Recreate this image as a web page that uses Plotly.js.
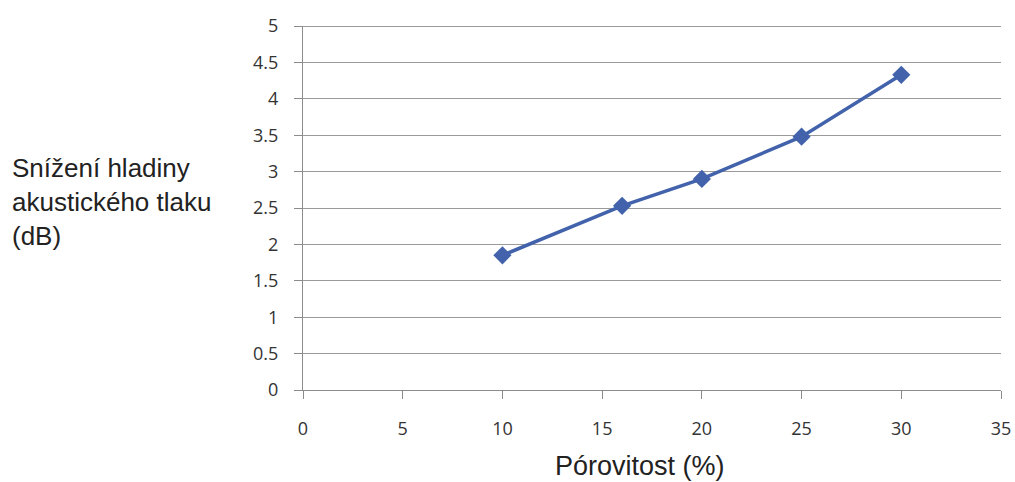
<!DOCTYPE html>
<html>
<head>
<meta charset="utf-8">
<script src="https://cdn.plot.ly/plotly-3.0.1.min.js"></script>
<style>html,body{margin:0;padding:0;background:#fff;}#chart{width:1015px;height:482px;}</style>
</head>
<body>
<div id="chart"></div>
<script>
const porosity = [10, 16, 20, 25, 30];
const reduction = [1.85, 2.53, 2.90, 3.48, 4.33];
const xTitle = "Pórovitost (%)";
const yTitle = "Snížení hladiny<br>akustického tlaku<br>(dB)";

const W = 1015, H = 482;
const m = {l: 303, r: 14, t: 26, b: 92};
const pw = W - m.l - m.r, ph = H - m.t - m.b;

const trace = {
  x: porosity, y: reduction, type: 'scatter', mode: 'lines+markers',
  line: {color: '#4263ab', width: 3.5},
  marker: {symbol: 'diamond', size: 14, color: '#4263ab'},
  hoverinfo: 'none'
};

const tickFont = {family: 'Open Sans, Liberation Sans, sans-serif', size: 18, color: '#333'};

const layout = {
  width: W, height: H,
  margin: m,
  paper_bgcolor: '#ffffff', plot_bgcolor: '#ffffff',
  showlegend: false,
  font: {family: 'Liberation Sans, Arial, sans-serif', color: '#222'},
  xaxis: {
    range: [0, 35], dtick: 5, tick0: 0,
    showgrid: false, zeroline: false,
    showline: true, linecolor: '#8c8c8c', linewidth: 1,
    ticks: 'outside', ticklen: 8, tickcolor: '#8c8c8c',
    ticklabelstandoff: 14,
    tickfont: tickFont
  },
  yaxis: {
    range: [0, 5], dtick: 0.5, tick0: 0,
    showgrid: true, gridcolor: '#9a9a9a', gridwidth: 1,
    zeroline: false,
    showline: true, linecolor: '#8c8c8c', linewidth: 1,
    ticks: 'outside', ticklen: 8, tickcolor: '#8c8c8c',
    ticklabelstandoff: 12,
    tickfont: tickFont
  },
  annotations: [{
    text: yTitle, xref: 'paper', yref: 'paper',
    x: (10 - m.l) / pw, y: (H - m.b - 202) / ph,
    xanchor: 'left', yanchor: 'middle', align: 'left', showarrow: false,
    font: {family: 'Liberation Sans, Arial, sans-serif', size: 26, color: '#222'}
  }, {
    text: xTitle, xref: 'paper', yref: 'paper',
    x: (640 - m.l) / pw, y: (H - m.b - 466) / ph,
    xanchor: 'center', yanchor: 'middle', showarrow: false,
    font: {family: 'Liberation Sans, Arial, sans-serif', size: 27, color: '#222'}
  }],
  shapes: [{
    type: 'line', xref: 'paper', yref: 'y', x0: 0, x1: 1, y0: 5, y1: 5,
    line: {color: '#7a7a7a', width: 1.5}
  }]
};

Plotly.newPlot('chart', [trace], layout, {displayModeBar: false, staticPlot: true});
</script>
</body>
</html>
